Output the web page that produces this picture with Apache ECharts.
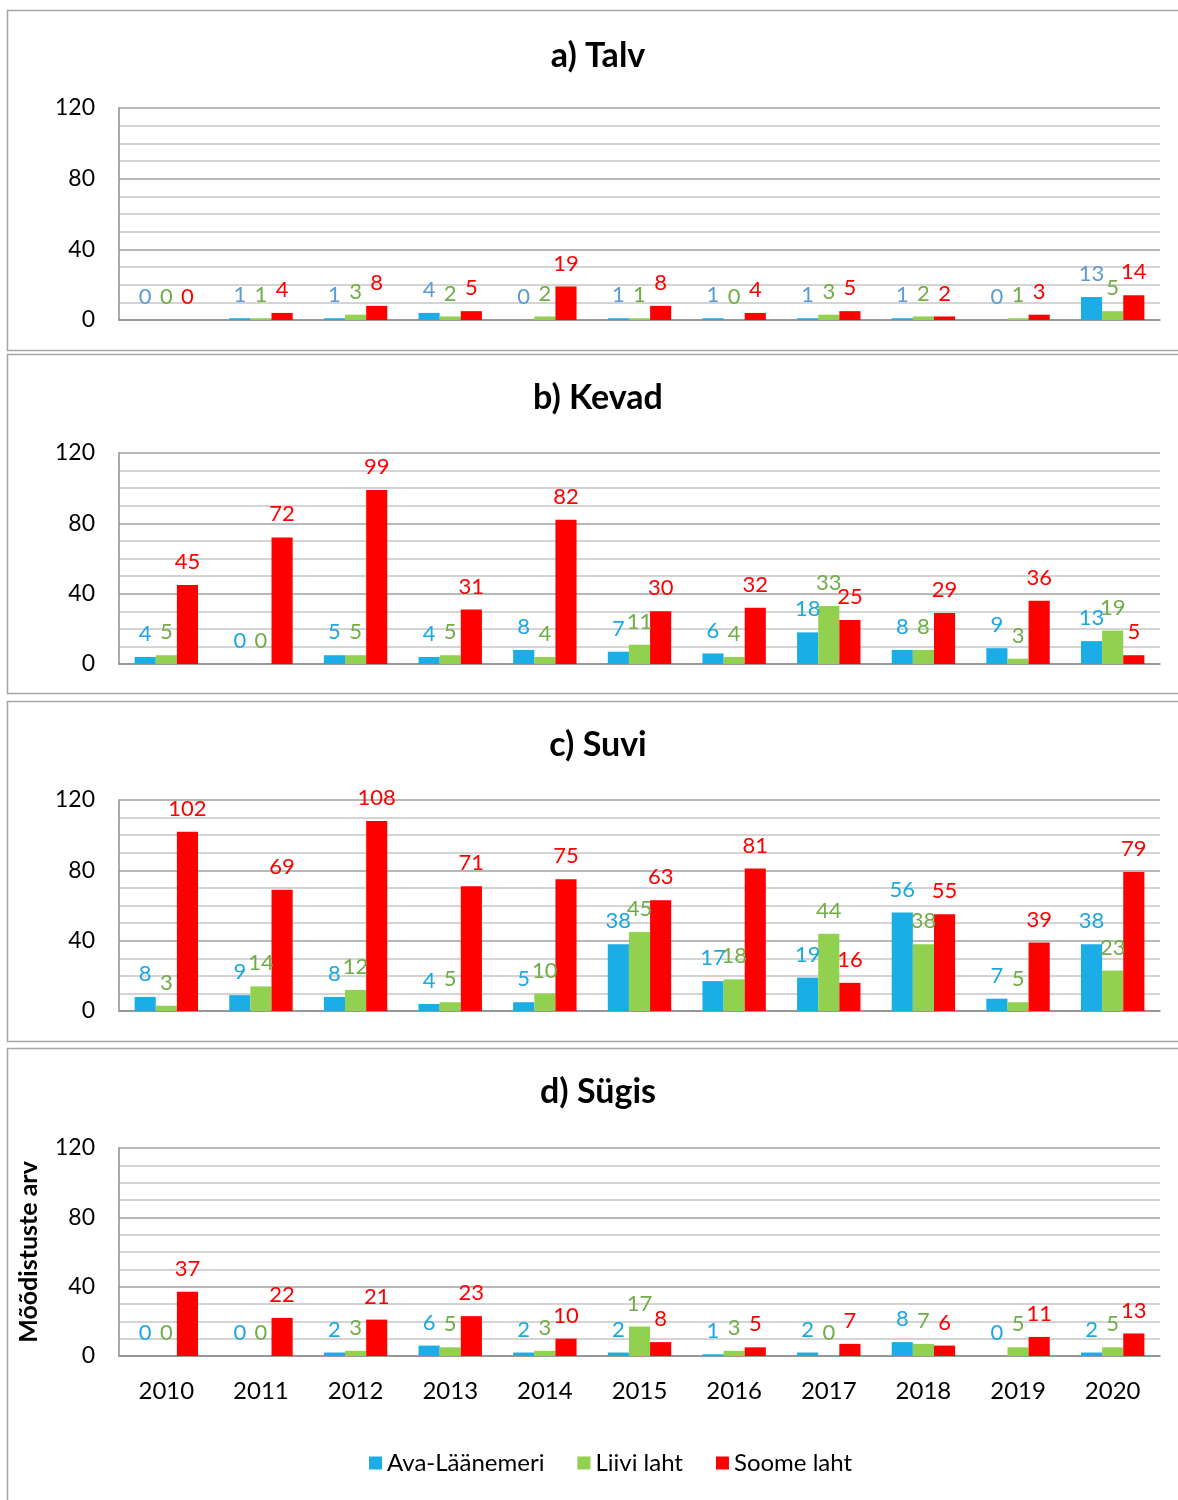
<!DOCTYPE html>
<html>
<head>
<meta charset="utf-8">
<script src="https://cdn.jsdelivr.net/npm/echarts@6/dist/echarts.min.js"></script>
<style>
  html, body { margin: 0; padding: 0; background: #ffffff; }
  #chart { width: 1178px; height: 1500px; }
</style>
</head>
<body>
<div id="chart"></div>
<script>
// ---- data ----
const years = ['2010','2011','2012','2013','2014','2015','2016','2017','2018','2019','2020'];
const seriesNames = ['Ava-Läänemeri', 'Liivi laht', 'Soome laht'];
const panelTitles = ['a) Talv', 'b) Kevad', 'c) Suvi', 'd) Sügis'];
const yTicks = [0, 40, 80, 120];
const yAxisName = 'Mõõdistuste arv';

const talvAva   = [0, 1, 1, 4, 0, 1, 1, 1, 1, 0, 13];
const talvLiivi = [0, 1, 3, 2, 2, 1, 0, 3, 2, 1, 5];
const talvSoome = [0, 4, 8, 5, 19, 8, 4, 5, 2, 3, 14];

const kevadAva   = [4, 0, 5, 4, 8, 7, 6, 18, 8, 9, 13];
const kevadLiivi = [5, 0, 5, 5, 4, 11, 4, 33, 8, 3, 19];
const kevadSoome = [45, 72, 99, 31, 82, 30, 32, 25, 29, 36, 5];

const suviAva   = [8, 9, 8, 4, 5, 38, 17, 19, 56, 7, 38];
const suviLiivi = [3, 14, 12, 5, 10, 45, 18, 44, 38, 5, 23];
const suviSoome = [102, 69, 108, 71, 75, 63, 81, 16, 55, 39, 79];

const sugisAva   = [0, 0, 2, 6, 2, 2, 1, 2, 8, 0, 2];
const sugisLiivi = [0, 0, 3, 5, 3, 17, 3, 0, 7, 5, 5];
const sugisSoome = [37, 22, 21, 23, 10, 8, 5, 7, 6, 11, 13];

// ---- layout / styles ----
const FONT = 'Lato, "Liberation Sans", sans-serif';
const barColors = ['#1AADE6', '#92D050', '#FF0000'];
const labelColorsA = ['#5B9BD5', '#70AD47', '#FF0000'];
const labelColorsB = ['#1AA7E3', '#70AD47', '#FF0000'];

const panels = [
  { data: [talvAva, talvLiivi, talvSoome],   top: 108,  height: 212, titleTop: 39,   box: [10, 350],   labels: labelColorsA },
  { data: [kevadAva, kevadLiivi, kevadSoome], top: 453,  height: 211, titleTop: 381,  box: [354, 693],  labels: labelColorsB },
  { data: [suviAva, suviLiivi, suviSoome],   top: 800,  height: 211, titleTop: 728,  box: [701, 1041], labels: labelColorsB },
  { data: [sugisAva, sugisLiivi, sugisSoome], top: 1148, height: 208, titleTop: 1075, box: [1048, 1520], labels: labelColorsB }
];

const grid = [], xAxis = [], yAxis = [], series = [], title = [], graphic = [];

panels.forEach((p, i) => {
  graphic.push({
    type: 'rect', silent: true, z: -10,
    shape: { x: 7.5, y: p.box[0] + 0.5, width: 1200, height: p.box[1] - p.box[0] },
    style: { fill: '#ffffff', stroke: '#A6A6A6', lineWidth: 1.5 }
  });
  title.push({
    text: panelTitles[i], left: 598, textAlign: 'center', top: p.titleTop, padding: 0,
    textStyle: { fontFamily: FONT, fontWeight: 'bold', fontSize: 34, color: '#000000' }
  });
  grid.push({ left: 119, right: 18, top: p.top, height: p.height, containLabel: false });
  const isLast = i === panels.length - 1;
  xAxis.push({
    type: 'category', gridIndex: i, data: years,
    axisLine: { show: true, lineStyle: { color: '#8C8C8C', width: 1.5 } },
    axisTick: { show: false },
    axisLabel: { show: isLast, fontFamily: FONT, fontSize: 24, color: '#000000', margin: 23 }
  });
  yAxis.push({
    type: 'value', gridIndex: i, min: yTicks[0], max: yTicks[yTicks.length - 1], interval: 40,
    axisLine: { show: true, lineStyle: { color: '#8C8C8C', width: 1.5 } },
    axisTick: { show: false },
    axisLabel: { fontFamily: FONT, fontSize: 23, color: '#000000', margin: 24 },
    splitLine: { show: true, lineStyle: { color: '#A0A0A0', width: 1.5 } },
    minorTick: { show: false, splitNumber: 4 },
    minorSplitLine: { show: true, lineStyle: { color: '#D4D4D4', width: 2 } },
    name: isLast ? yAxisName : '',
    nameLocation: 'middle', nameGap: 78, nameRotate: 90,
    nameTextStyle: { fontFamily: FONT, fontWeight: 'bold', fontSize: 25, color: '#000000' }
  });
  p.data.forEach((vals, k) => {
    series.push({
      name: seriesNames[k], type: 'bar', xAxisIndex: i, yAxisIndex: i,
      data: vals,
      barGap: '0%', barCategoryGap: '33%',
      itemStyle: { color: barColors[k] },
      label: {
        show: true, position: 'top', distance: 12,
        fontFamily: FONT, fontSize: 22, color: p.labels[k]
      },
      emphasis: { disabled: true },
      animation: false
    });
  });
});

const chart = echarts.init(document.getElementById('chart'), null, { renderer: 'canvas' });
chart.setOption({
  animation: false,
  backgroundColor: '#ffffff',
  title: title,
  grid: grid,
  xAxis: xAxis,
  yAxis: yAxis,
  series: series,
  graphic: graphic,
  legend: {
    data: seriesNames, left: 364, top: 1446,
    icon: 'rect', itemWidth: 13, itemHeight: 13, itemGap: 33,
    textStyle: { fontFamily: FONT, fontSize: 24, color: '#000000' }
  }
});
</script>
</body>
</html>
